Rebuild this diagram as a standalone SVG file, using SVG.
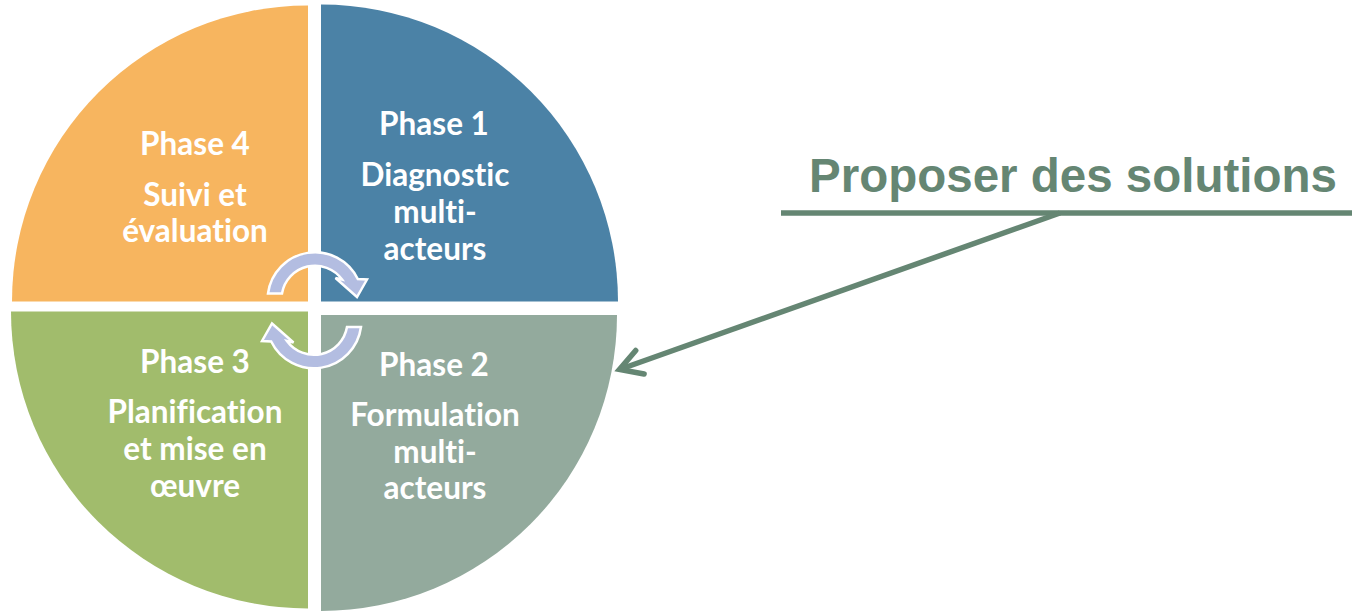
<svg xmlns="http://www.w3.org/2000/svg" xmlns:xlink="http://www.w3.org/1999/xlink" width="1352" height="611" viewBox="0 0 1352 611">
<style>
.lbl{font-family:Lato,"Open Sans","Liberation Sans",sans-serif;font-weight:bold;font-size:31.5px;fill:#ffffff;text-anchor:middle;font-variant-ligatures:none}
.title{font-family:"Liberation Sans",Arial,sans-serif;font-weight:bold;font-size:47.5px;fill:#658673}
.conn{stroke:#658673;stroke-width:5.5;fill:none}
.cyc{fill:#B3BDE1;stroke:#ffffff;stroke-width:2.5;stroke-linejoin:miter}
</style>
<defs>
<marker id="chev" markerUnits="userSpaceOnUse" viewBox="-30 -20 36 40" markerWidth="36" markerHeight="40" refX="0" refY="0" orient="auto" overflow="visible">
<path d="M -21.65 -12.5 L 0 0 L -21.65 12.5" fill="none" stroke="#658673" stroke-width="5.5" stroke-linecap="round"/>
</marker>
<path id="cyc-arrow" d="M 268 293.5 A 47.5 47.5 0 0 1 357.8 279 L 367 279.5 L 357 297 L 335.5 278 L 342.1 279.5 A 33.5 33.5 0 0 0 282 293.5 Z"/>
</defs>
<rect width="1352" height="611" fill="#ffffff"/>
<g id="phase4">
<path d="M 308 301.5 L 12 301.5 A 296 296 0 0 1 308 5.5 Z" fill="#F7B55F"/>
<text class="lbl" x="195" y="155">Phase 4</text>
<text class="lbl" x="195" y="206">Suivi et</text>
<text class="lbl" x="195" y="242">évaluation</text>
</g>
<g id="phase1">
<path d="M 321 301.5 L 321 4.5 A 297 297 0 0 1 618 301.5 Z" fill="#4B82A6"/>
<text class="lbl" x="434" y="135">Phase 1</text>
<text class="lbl" x="435" y="186">Diagnostic</text>
<text class="lbl" x="435" y="223">multi-</text>
<text class="lbl" x="435" y="260">acteurs</text>
</g>
<g id="phase3">
<path d="M 308 311.5 L 308 608.5 A 297 297 0 0 1 11 311.5 Z" fill="#A1BC6C"/>
<text class="lbl" x="195" y="373">Phase 3</text>
<text class="lbl" x="195" y="423">Planification</text>
<text class="lbl" x="195" y="460">et mise en</text>
<text class="lbl" x="195" y="497">œuvre</text>
</g>
<g id="phase2">
<path d="M 321 315 L 617 315 A 296 296 0 0 1 321 611 Z" fill="#93AA9D"/>
<text class="lbl" x="434" y="376">Phase 2</text>
<text class="lbl" x="435" y="426">Formulation</text>
<text class="lbl" x="435" y="463">multi-</text>
<text class="lbl" x="435" y="499">acteurs</text>
</g>
<g id="cycle-arrows">
<use xlink:href="#cyc-arrow" href="#cyc-arrow" class="cyc"/>
<use xlink:href="#cyc-arrow" href="#cyc-arrow" class="cyc" transform="rotate(180 314.5 310.25)"/>
</g>
<g id="callout">
<text class="title" x="809" y="192">Proposer des solutions</text>
</g>
<g id="connectors">
<line class="conn" x1="781" y1="213" x2="1352" y2="213" stroke-width="6"/>
<line class="conn" x1="1060" y1="213" x2="619.5" y2="369.5" marker-end="url(#chev)"/>
</g>
</svg>
